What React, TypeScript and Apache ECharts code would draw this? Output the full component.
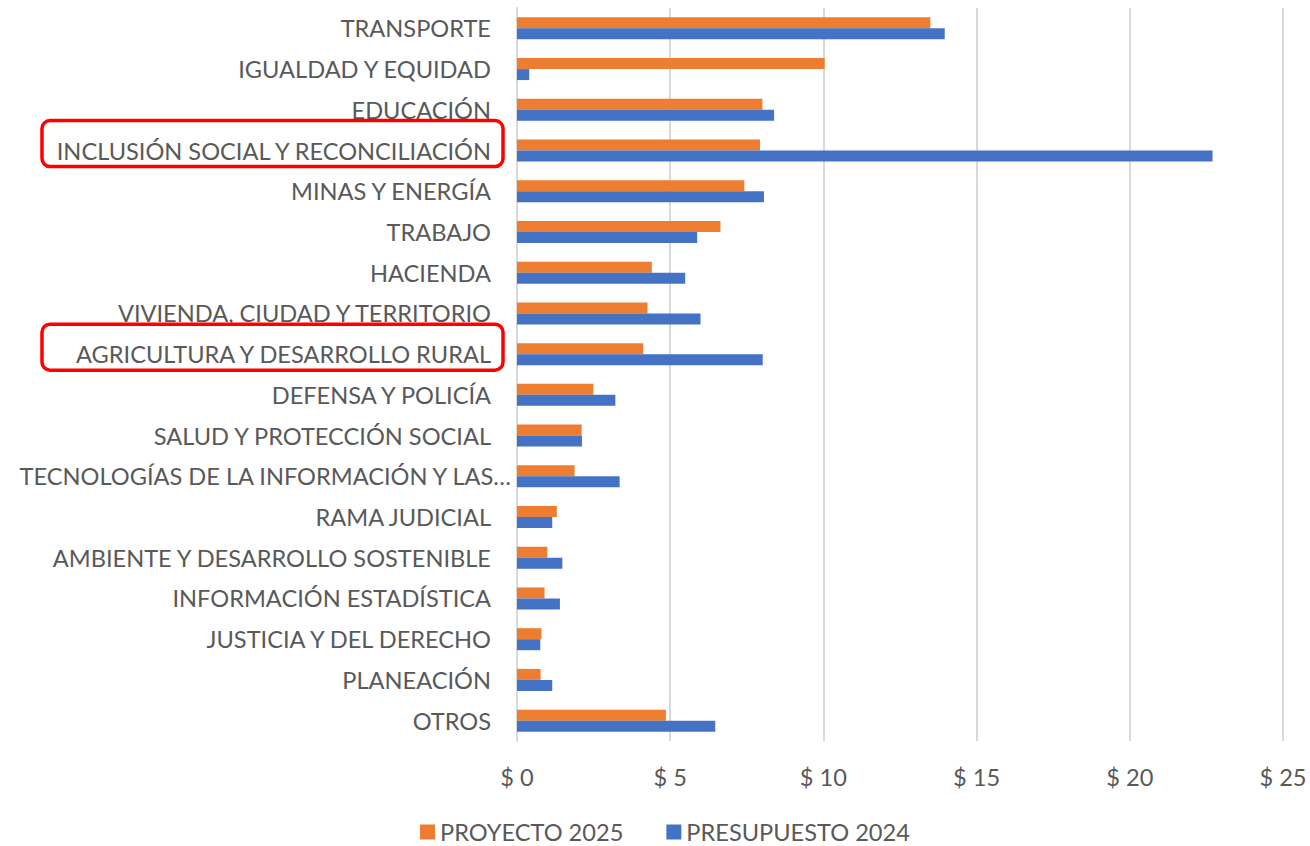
import React, { useEffect, useRef } from "react";
import * as echarts from "echarts";

const categories = [
  "TRANSPORTE",
  "IGUALDAD Y EQUIDAD",
  "EDUCACIÓN",
  "INCLUSIÓN SOCIAL Y RECONCILIACIÓN",
  "MINAS Y ENERGÍA",
  "TRABAJO",
  "HACIENDA",
  "VIVIENDA, CIUDAD Y TERRITORIO",
  "AGRICULTURA Y DESARROLLO RURAL",
  "DEFENSA Y POLICÍA",
  "SALUD Y PROTECCIÓN SOCIAL",
  "TECNOLOGÍAS DE LA INFORMACIÓN Y LAS…",
  "RAMA JUDICIAL",
  "AMBIENTE Y DESARROLLO SOSTENIBLE",
  "INFORMACIÓN ESTADÍSTICA",
  "JUSTICIA Y DEL DERECHO",
  "PLANEACIÓN",
  "OTROS",
];

const proyecto2025 = [13.49, 10.04, 8.01, 7.93, 7.42, 6.64, 4.4, 4.26, 4.12, 2.49, 2.11, 1.88, 1.3, 0.99, 0.9, 0.8, 0.77, 4.86];
const presupuesto2024 = [13.96, 0.4, 8.39, 22.7, 8.06, 5.88, 5.49, 5.99, 8.02, 3.21, 2.12, 3.35, 1.15, 1.48, 1.4, 0.76, 1.15, 6.47];

const xTicks = { min: 0, max: 25, interval: 5 };
const highlighted = ["INCLUSIÓN SOCIAL Y RECONCILIACIÓN", "AGRICULTURA Y DESARROLLO RURAL"];

const FONT = "Lato, 'Open Sans', sans-serif";
const GRAY = "#595959";
const FS = 23.6;

export default function App() {
  const ref = useRef<HTMLDivElement>(null);
  useEffect(() => {
    if (!ref.current) return;
    const chart = echarts.init(ref.current, undefined, { renderer: "svg" });
    const top = 8;
    const bottom = 105;
    const plotH = 846 - top - bottom;
    const band = plotH / categories.length;
    const rects = highlighted.map((c) => {
      const i = categories.indexOf(c);
      const cy = top + band * (i + 0.5);
      return {
        type: "rect",
        shape: { x: 42, y: cy - 30, width: 461, height: 46, r: 8 },
        style: { fill: "none", stroke: "#FF0000", lineWidth: 3.5 },
        z: 100,
      };
    });
    chart.setOption({
      animation: false,
      textStyle: { fontFamily: FONT },
      grid: { left: 517, right: 27, top, bottom, containLabel: false },
      legend: {
        data: ["PROYECTO 2025", "PRESUPUESTO 2024"],
        top: 820,
        left: 420,
        padding: 0,
        icon: "rect",
        itemWidth: 15,
        itemHeight: 15,
        itemGap: 43,
        textStyle: { color: GRAY, fontSize: FS, fontFamily: FONT },
      },
      xAxis: {
        type: "value",
        min: xTicks.min,
        max: xTicks.max,
        interval: xTicks.interval,
        axisLine: { show: false },
        axisTick: { show: false },
        splitLine: { lineStyle: { color: "#d9d9d9", width: 2 } },
        axisLabel: {
          color: GRAY,
          fontSize: FS,
          margin: 24,
          formatter: (v: number) => "$ " + v,
        },
      },
      yAxis: {
        type: "category",
        inverse: true,
        data: categories.map((c) =>
          c.endsWith("…") ? { value: c } : { value: c, textStyle: { padding: [0, 20, 0, 0] } }
        ),
        axisLine: { show: true, lineStyle: { color: "#d9d9d9", width: 2 } },
        axisTick: { show: false },
        axisLabel: { color: GRAY, fontSize: FS, margin: 6 },
      },
      series: [
        {
          name: "PROYECTO 2025",
          type: "bar",
          data: proyecto2025,
          barWidth: 11,
          barGap: "0%",
          itemStyle: { color: "#ED7D31" },
        },
        {
          name: "PRESUPUESTO 2024",
          type: "bar",
          data: presupuesto2024,
          barWidth: 11,
          barGap: "0%",
          itemStyle: { color: "#4472C4" },
        },
      ],
      graphic: rects,
    });
    return () => chart.dispose();
  }, []);
  return (
    <div
      ref={ref}
      style={{ position: "fixed", left: 0, top: 0, width: 1310, height: 846, background: "#fff" }}
    />
  );
}
